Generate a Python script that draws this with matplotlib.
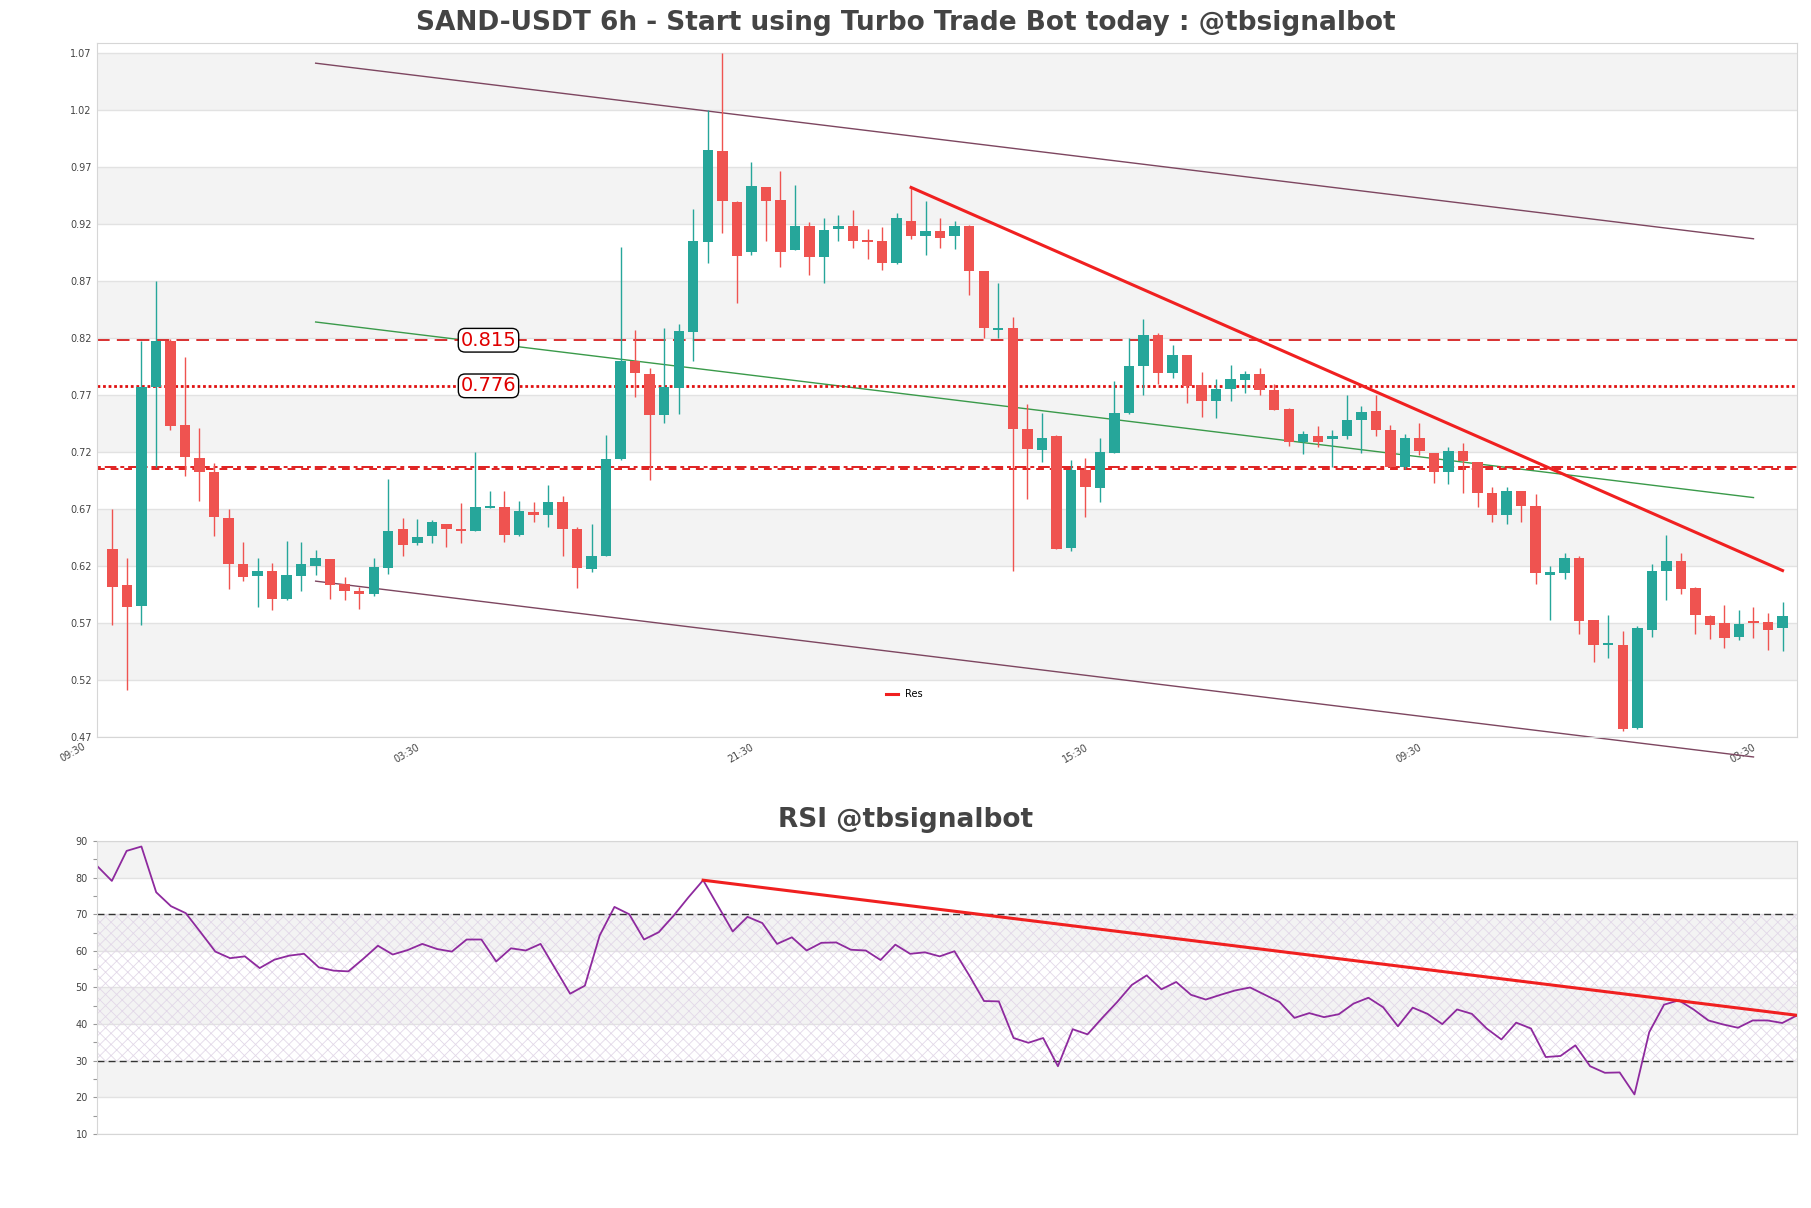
import matplotlib
matplotlib.use('Agg')
import matplotlib.pyplot as plt
import numpy as np

# 6h candles
opens = [0.635, 0.603, 0.585, 0.777, 0.817, 0.744, 0.715, 0.702, 0.662, 0.622,
         0.611, 0.616, 0.591, 0.611, 0.620, 0.626, 0.604, 0.598, 0.595, 0.618,
         0.652, 0.640, 0.646, 0.657, 0.652, 0.651, 0.671, 0.672, 0.647, 0.667,
         0.665, 0.676, 0.652, 0.617, 0.629, 0.714, 0.800, 0.788, 0.752, 0.776,
         0.825, 0.904, 0.984, 0.939, 0.895, 0.952, 0.941, 0.897, 0.918, 0.891,
         0.916, 0.918, 0.905, 0.905, 0.886, 0.923, 0.909, 0.914, 0.909, 0.918,
         0.879, 0.827, 0.829, 0.740, 0.722, 0.734, 0.636, 0.704, 0.688, 0.719,
         0.754, 0.795, 0.823, 0.789, 0.805, 0.779, 0.765, 0.775, 0.783, 0.788,
         0.774, 0.758, 0.729, 0.734, 0.731, 0.734, 0.748, 0.756, 0.739, 0.707,
         0.732, 0.719, 0.702, 0.721, 0.711, 0.684, 0.665, 0.686, 0.673, 0.612,
         0.614, 0.627, 0.573, 0.551, 0.551, 0.478, 0.564, 0.616, 0.624, 0.601,
         0.576, 0.570, 0.558, 0.571, 0.571, 0.566]
closes = [0.602, 0.584, 0.777, 0.817, 0.743, 0.716, 0.702, 0.663, 0.622, 0.610,
          0.616, 0.591, 0.612, 0.622, 0.627, 0.603, 0.598, 0.595, 0.619, 0.651,
          0.638, 0.645, 0.659, 0.652, 0.651, 0.672, 0.672, 0.647, 0.668, 0.665,
          0.676, 0.652, 0.618, 0.629, 0.714, 0.800, 0.789, 0.752, 0.777, 0.826,
          0.905, 0.985, 0.940, 0.892, 0.953, 0.940, 0.895, 0.918, 0.891, 0.915,
          0.918, 0.905, 0.904, 0.886, 0.925, 0.909, 0.914, 0.908, 0.918, 0.879,
          0.829, 0.828, 0.740, 0.723, 0.732, 0.635, 0.704, 0.689, 0.720, 0.754,
          0.795, 0.823, 0.789, 0.805, 0.778, 0.765, 0.775, 0.784, 0.788, 0.774,
          0.757, 0.729, 0.736, 0.729, 0.734, 0.748, 0.755, 0.739, 0.707, 0.732,
          0.721, 0.702, 0.721, 0.712, 0.684, 0.665, 0.686, 0.673, 0.614, 0.615,
          0.627, 0.572, 0.551, 0.552, 0.477, 0.566, 0.616, 0.624, 0.600, 0.577,
          0.568, 0.557, 0.569, 0.570, 0.564, 0.576]
highs = [0.670, 0.627, 0.817, 0.870, 0.819, 0.803, 0.741, 0.710, 0.670, 0.641,
         0.627, 0.623, 0.642, 0.641, 0.634, 0.626, 0.610, 0.602, 0.627, 0.696,
         0.662, 0.661, 0.660, 0.657, 0.675, 0.720, 0.686, 0.686, 0.677, 0.676,
         0.691, 0.681, 0.654, 0.657, 0.735, 0.900, 0.827, 0.794, 0.829, 0.832,
         0.933, 1.020, 1.070, 0.940, 0.974, 0.952, 0.966, 0.954, 0.922, 0.925,
         0.928, 0.932, 0.916, 0.917, 0.930, 0.952, 0.940, 0.925, 0.923, 0.919,
         0.879, 0.868, 0.838, 0.762, 0.754, 0.735, 0.713, 0.715, 0.732, 0.782,
         0.820, 0.837, 0.824, 0.814, 0.805, 0.790, 0.784, 0.796, 0.791, 0.794,
         0.780, 0.759, 0.738, 0.743, 0.739, 0.770, 0.760, 0.770, 0.744, 0.736,
         0.745, 0.719, 0.724, 0.728, 0.711, 0.689, 0.689, 0.686, 0.683, 0.620,
         0.631, 0.629, 0.573, 0.577, 0.563, 0.567, 0.622, 0.647, 0.631, 0.602,
         0.577, 0.586, 0.581, 0.584, 0.579, 0.588]
lows = [0.568, 0.511, 0.568, 0.707, 0.739, 0.699, 0.677, 0.646, 0.600, 0.607,
        0.584, 0.581, 0.590, 0.598, 0.612, 0.591, 0.590, 0.582, 0.594, 0.613,
        0.629, 0.638, 0.640, 0.637, 0.640, 0.651, 0.671, 0.641, 0.646, 0.659,
        0.654, 0.629, 0.601, 0.615, 0.629, 0.713, 0.768, 0.695, 0.745, 0.753,
        0.800, 0.886, 0.912, 0.851, 0.893, 0.905, 0.882, 0.897, 0.875, 0.868,
        0.905, 0.899, 0.889, 0.880, 0.885, 0.907, 0.893, 0.899, 0.898, 0.858,
        0.820, 0.820, 0.616, 0.679, 0.711, 0.635, 0.633, 0.663, 0.676, 0.719,
        0.753, 0.770, 0.780, 0.785, 0.763, 0.751, 0.750, 0.765, 0.772, 0.770,
        0.757, 0.725, 0.718, 0.724, 0.707, 0.731, 0.719, 0.734, 0.707, 0.705,
        0.717, 0.693, 0.692, 0.684, 0.672, 0.659, 0.657, 0.659, 0.604, 0.573,
        0.609, 0.560, 0.536, 0.539, 0.475, 0.477, 0.558, 0.590, 0.595, 0.560,
        0.556, 0.548, 0.555, 0.557, 0.546, 0.545]

rsi = [83.2, 79.1, 87.3, 88.5, 76.0, 72.2, 70.3, 65.1, 59.8, 58.0,
       58.5, 55.3, 57.6, 58.7, 59.2, 55.5, 54.6, 54.4, 57.8, 61.4,
       59.0, 60.2, 61.9, 60.5, 59.8, 63.1, 63.1, 57.1, 60.7, 60.1,
       61.9, 55.1, 48.3, 50.5, 64.2, 72.0, 70.0, 63.1, 65.1, 69.6,
       74.6, 79.3, 72.3, 65.3, 69.3, 67.6, 61.9, 63.7, 60.1, 62.2,
       62.3, 60.3, 60.1, 57.5, 61.7, 59.2, 59.6, 58.5, 59.9, 53.3,
       46.3, 46.2, 36.2, 34.9, 36.2, 28.5, 38.6, 37.2, 41.7, 46.0,
       50.7, 53.3, 49.5, 51.5, 48.0, 46.7, 48.0, 49.2, 50.0, 48.0,
       46.0, 41.7, 43.0, 41.9, 42.7, 45.6, 47.2, 44.6, 39.4, 44.5,
       42.8, 40.0, 44.0, 42.8, 38.8, 35.8, 40.4, 38.8, 31.0, 31.3,
       34.2, 28.5, 26.7, 26.8, 20.8, 37.8, 45.3, 46.5, 44.0, 41.0,
       39.9, 39.0, 41.0, 41.0, 40.3, 42.4]

# trend lines: (x0, x1), (y0, y1) in candle index / price
channel_x = [14, 113]
channel_upper = [1.061, 0.907]
channel_lower = [0.6067, 0.4525]
mid_line = [0.834, 0.680]
res_x = [55, 115]
res_y = [0.952, 0.616]
rsi_trend_x = [41, 115]
rsi_trend_y = [79.3, 42.4]

level_values = [0.818, 0.778]
level_labels = ['0.815', '0.776']
support_levels = [0.7050, 0.7070]

tick_pos = [-1.7, 21.3, 44.3, 67.3, 90.3, 113.3]
tick_labels = ['09:30', '03:30', '21:30', '15:30', '09:30', '03:30']

green = '#26a69a'
red = '#ef5350'
band = '#f3f3f3'
gridc = '#e2e2e2'
spinec = '#d6d6d6'

plt.rcParams['hatch.linewidth'] = 0.6

fig = plt.figure(figsize=(18.11, 12.08), dpi=100)
ax = fig.add_axes([0.0536, 0.3899, 0.9387, 0.5745])
ax2 = fig.add_axes([0.0536, 0.0613, 0.9387, 0.2425])

# ---- price panel ----
ylo = 0.47
for k in range(12):
    if k % 2 == 1:
        ax.axhspan(ylo + 0.05 * k, ylo + 0.05 * (k + 1), color=band, lw=0, zorder=0)
for k in range(13):
    ax.axhline(ylo + 0.05 * k, color=gridc, lw=1, zorder=0.5)

ax.plot(channel_x, channel_upper, color='#7d4660', lw=1, zorder=2)
ax.plot(channel_x, channel_lower, color='#7d4660', lw=1, zorder=2, clip_on=False)
ax.plot(channel_x, mid_line, color='#3a9a4a', lw=1, zorder=2)

ax.axhline(level_values[0], color='#d62020', lw=1.3, ls=(0, (7, 4)), zorder=2)
ax.axhline(level_values[1], color='#e01010', lw=2, ls=(0, (1, 1)), zorder=2)
ax.axhline(support_levels[0], color='#e02020', lw=1.4, ls=(0, (4, 3)), zorder=2)
ax.axhline(support_levels[1], color='#e02020', lw=1.4, ls=(0, (2, 2, 6, 2)), zorder=2)

x = np.arange(len(opens))
o = np.array(opens)
c = np.array(closes)
cols = [green if cc >= oo else red for oo, cc in zip(o, c)]
ax.vlines(x, lows, highs, colors=cols, lw=1, zorder=3)
body = np.maximum(np.abs(c - o), 0.0015)
ax.bar(x, body, bottom=np.minimum(o, c), width=0.72, color=cols, lw=0, zorder=3)

res, = ax.plot(res_x, res_y, color='#f02020', lw=2.2, zorder=4, label='Res')

for v, lab in zip(level_values, level_labels):
    ax.text(25.9, v, lab, color='#e00000', fontsize=14, ha='center', va='center', zorder=5,
            bbox=dict(boxstyle='round,pad=0.12,rounding_size=0.35', fc='white', ec='black', lw=1))

ax.set_xlim(-1.05, 116.0)
ax.set_ylim(0.47, 1.0787)
ax.set_yticks([ylo + 0.05 * k for k in range(13)])
ax.set_yticklabels(['%.2f' % (ylo + 0.05 * k) for k in range(13)])
ax.set_xticks(tick_pos[1:])
ax.set_xticklabels(tick_labels[1:], rotation=30, ha='right')
ax.text(tick_pos[0], -0.006, tick_labels[0], rotation=30, ha='right', va='top', fontsize=7,
        color='#444444', transform=ax.get_xaxis_transform(), clip_on=False)
ax.tick_params(axis='both', labelsize=7, labelcolor='#444444', length=0, pad=4)
for s in ax.spines.values():
    s.set_color(spinec)

ax.legend(handles=[res], loc='center', bbox_to_anchor=(0.475, 0.062), frameon=False,
          fontsize=7, handlelength=1.2)

# ---- RSI panel ----
for k in range(8):
    if k % 2 == 1:
        ax2.axhspan(10 + 10 * k, 20 + 10 * k, color=band, lw=0, zorder=0)
for k in range(9):
    ax2.axhline(10 + 10 * k, color=gridc, lw=1, zorder=0.5)
ax2.axhspan(30, 70, facecolor='none', edgecolor='#e2d8e8', hatch='xxx', lw=0, zorder=0.6)
ax2.axhline(70, color='#333333', lw=1, ls=(0, (5, 3)), zorder=1)
ax2.axhline(30, color='#333333', lw=1, ls=(0, (5, 3)), zorder=1)

ax2.plot(np.arange(len(rsi)), rsi, color='#8e2a9e', lw=1.3, zorder=2)
ax2.plot(rsi_trend_x, rsi_trend_y, color='#f02020', lw=2.2, zorder=3)

ax2.set_xlim(0, len(rsi) - 1)
ax2.set_ylim(10, 90)
ax2.set_yticks(range(10, 91, 10))
ax2.set_yticks(range(15, 90, 10), minor=True)
ax2.set_xticks([])
ax2.tick_params(axis='y', which='both', labelsize=7, labelcolor='#444444', color='#999999',
                length=3, width=0.8)
for s in ax2.spines.values():
    s.set_color(spinec)

fig.text(0.5, 0.981, 'SAND-USDT 6h - Start using Turbo Trade Bot today : @tbsignalbot',
         ha='center', va='center', fontsize=19, fontweight='bold', color='#444444')
fig.text(0.5, 0.321, 'RSI @tbsignalbot', ha='center', va='center', fontsize=19,
         fontweight='bold', color='#444444')

fig.savefig('out.png', dpi=100)
